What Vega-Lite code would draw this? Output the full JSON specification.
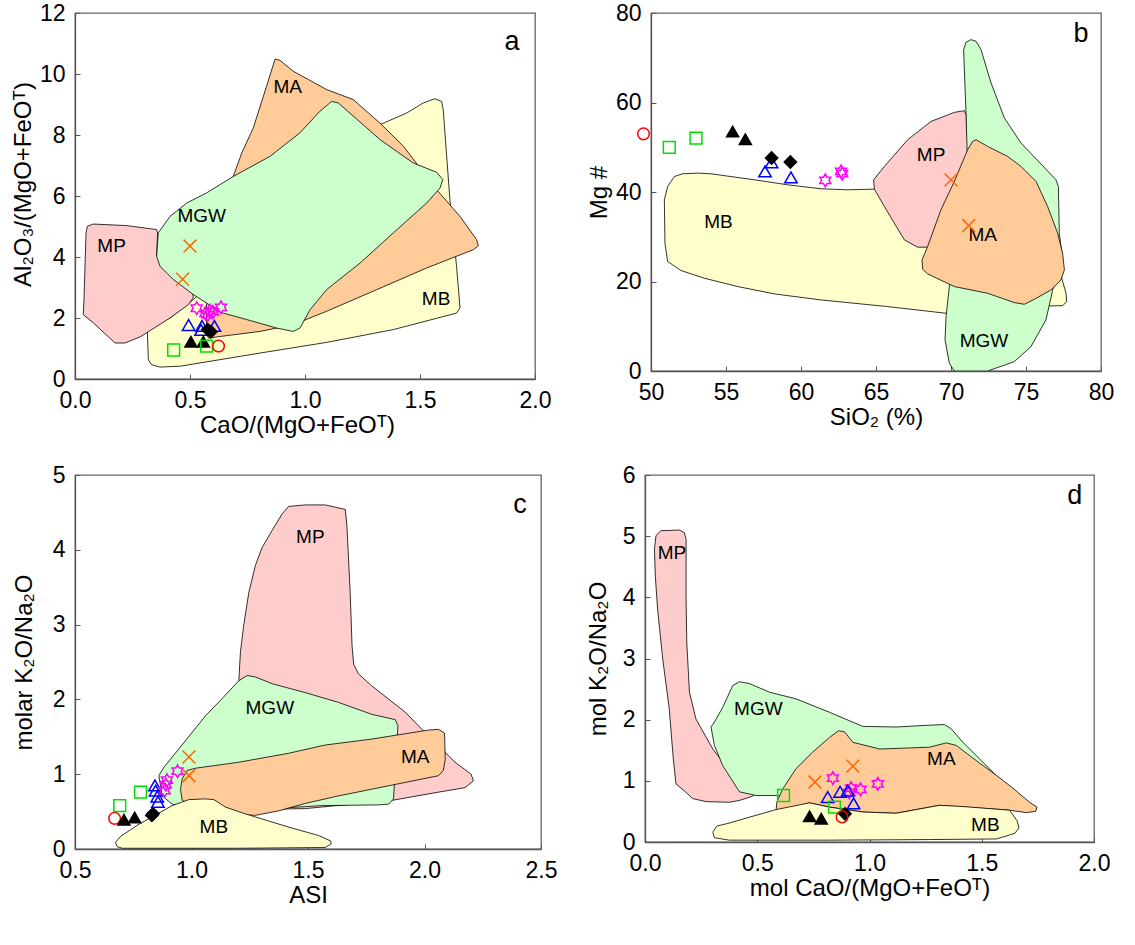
{
  "$schema": "https://vega.github.io/schema/vega-lite/v6.json",
  "background": "white",
  "padding": {"left": 10, "top": 1, "right": 5, "bottom": 5},
  "config": {
    "font": "Liberation Sans",
    "view": {"stroke": "#666", "strokeWidth": 1.3},
    "axis": {"grid": false, "labelFont": "Liberation Sans", "titleFont": "Liberation Sans", "labelFontSize": 23, "titleFontSize": 24, "titleFontWeight": "normal", "labelColor": "#000", "titleColor": "#000", "domainColor": "#555", "domainWidth": 1.3, "tickColor": "#555", "tickSize": -5, "labelPadding": 15, "labelFlush": false, "labelOverlap": false},
    "axisX": {"titlePadding": 1},
    "axisY": {"titlePadding": 4},
    "text": {"font": "Liberation Sans"}
  },
  "datasets": {
    "poly": [
      {"p":"a","r":"MB","o":1,"x":0.314,"y":1.67},{"p":"a","r":"MB","o":2,"x":0.319,"y":0.63},{"p":"a","r":"MB","o":3,"x":0.333,"y":0.47},{"p":"a","r":"MB","o":4,"x":0.370,"y":0.39},{"p":"a","r":"MB","o":5,"x":0.457,"y":0.42},{"p":"a","r":"MB","o":6,"x":0.587,"y":0.58},{"p":"a","r":"MB","o":7,"x":0.804,"y":0.85},{"p":"a","r":"MB","o":8,"x":1.094,"y":1.20},{"p":"a","r":"MB","o":9,"x":1.384,"y":1.62},{"p":"a","r":"MB","o":10,"x":1.659,"y":2.16},{"p":"a","r":"MB","o":11,"x":1.674,"y":2.33},{"p":"a","r":"MB","o":12,"x":1.659,"y":3.69},{"p":"a","r":"MB","o":13,"x":1.630,"y":5.88},{"p":"a","r":"MB","o":14,"x":1.601,"y":8.83},{"p":"a","r":"MB","o":15,"x":1.594,"y":9.10},{"p":"a","r":"MB","o":16,"x":1.565,"y":9.19},{"p":"a","r":"MB","o":17,"x":1.514,"y":9.05},{"p":"a","r":"MB","o":18,"x":1.442,"y":8.72},{"p":"a","r":"MB","o":19,"x":1.326,"y":8.34},{"p":"a","r":"MB","o":20,"x":0.949,"y":5.88},{"p":"a","r":"MB","o":21,"x":0.514,"y":2.60},{"p":"a","r":"MB","o":22,"x":0.413,"y":2.0},
      {"p":"a","r":"MA","o":1,"x":0.870,"y":10.49},{"p":"a","r":"MA","o":2,"x":0.891,"y":10.45},{"p":"a","r":"MA","o":3,"x":0.949,"y":10.09},{"p":"a","r":"MA","o":4,"x":1.094,"y":9.49},{"p":"a","r":"MA","o":5,"x":1.21,"y":9.16},{"p":"a","r":"MA","o":6,"x":1.326,"y":8.39},{"p":"a","r":"MA","o":7,"x":1.428,"y":7.63},{"p":"a","r":"MA","o":8,"x":1.572,"y":6.21},{"p":"a","r":"MA","o":9,"x":1.674,"y":5.33},{"p":"a","r":"MA","o":10,"x":1.746,"y":4.57},{"p":"a","r":"MA","o":11,"x":1.754,"y":4.37},{"p":"a","r":"MA","o":12,"x":1.732,"y":4.24},{"p":"a","r":"MA","o":13,"x":1.529,"y":3.64},{"p":"a","r":"MA","o":14,"x":1.312,"y":2.93},{"p":"a","r":"MA","o":15,"x":1.094,"y":2.22},{"p":"a","r":"MA","o":16,"x":0.949,"y":1.78},{"p":"a","r":"MA","o":17,"x":0.804,"y":1.56},{"p":"a","r":"MA","o":18,"x":0.616,"y":1.38},{"p":"a","r":"MA","o":19,"x":0.580,"y":1.34},{"p":"a","r":"MA","o":20,"x":0.572,"y":1.62},{"p":"a","r":"MA","o":21,"x":0.572,"y":2.49},{"p":"a","r":"MA","o":22,"x":0.630,"y":4.79},{"p":"a","r":"MA","o":23,"x":0.688,"y":6.64},{"p":"a","r":"MA","o":24,"x":0.725,"y":7.41},{"p":"a","r":"MA","o":25,"x":0.775,"y":8.23},{"p":"a","r":"MA","o":26,"x":0.833,"y":9.60},
      {"p":"a","r":"MP","o":1,"x":0.054,"y":5.01},{"p":"a","r":"MP","o":2,"x":0.08,"y":5.08},{"p":"a","r":"MP","o":3,"x":0.225,"y":5.03},{"p":"a","r":"MP","o":4,"x":0.355,"y":4.90},{"p":"a","r":"MP","o":5,"x":0.359,"y":4.79},{"p":"a","r":"MP","o":6,"x":0.355,"y":4.02},{"p":"a","r":"MP","o":7,"x":0.399,"y":3.64},{"p":"a","r":"MP","o":8,"x":0.471,"y":3.09},{"p":"a","r":"MP","o":9,"x":0.512,"y":2.82},{"p":"a","r":"MP","o":10,"x":0.514,"y":2.66},{"p":"a","r":"MP","o":11,"x":0.493,"y":2.44},{"p":"a","r":"MP","o":12,"x":0.413,"y":2.0},{"p":"a","r":"MP","o":13,"x":0.283,"y":1.38},{"p":"a","r":"MP","o":14,"x":0.217,"y":1.18},{"p":"a","r":"MP","o":15,"x":0.174,"y":1.18},{"p":"a","r":"MP","o":16,"x":0.08,"y":1.84},{"p":"a","r":"MP","o":17,"x":0.036,"y":2.11},{"p":"a","r":"MP","o":18,"x":0.039,"y":2.6},{"p":"a","r":"MP","o":19,"x":0.048,"y":4.79},
      {"p":"a","r":"MGW","o":1,"x":0.355,"y":4.02},{"p":"a","r":"MGW","o":2,"x":0.362,"y":4.79},{"p":"a","r":"MGW","o":3,"x":0.413,"y":5.33},{"p":"a","r":"MGW","o":4,"x":0.486,"y":5.77},{"p":"a","r":"MGW","o":5,"x":0.572,"y":6.10},{"p":"a","r":"MGW","o":6,"x":0.688,"y":6.64},{"p":"a","r":"MGW","o":7,"x":0.848,"y":7.30},{"p":"a","r":"MGW","o":8,"x":0.978,"y":8.07},{"p":"a","r":"MGW","o":9,"x":1.065,"y":8.78},{"p":"a","r":"MGW","o":10,"x":1.116,"y":9.10},{"p":"a","r":"MGW","o":11,"x":1.145,"y":9.05},{"p":"a","r":"MGW","o":12,"x":1.326,"y":7.85},{"p":"a","r":"MGW","o":13,"x":1.471,"y":7.08},{"p":"a","r":"MGW","o":14,"x":1.572,"y":6.78},{"p":"a","r":"MGW","o":15,"x":1.599,"y":6.54},{"p":"a","r":"MGW","o":16,"x":1.587,"y":6.26},{"p":"a","r":"MGW","o":17,"x":1.529,"y":5.77},{"p":"a","r":"MGW","o":18,"x":1.384,"y":4.79},{"p":"a","r":"MGW","o":19,"x":1.239,"y":3.80},{"p":"a","r":"MGW","o":20,"x":1.094,"y":2.93},{"p":"a","r":"MGW","o":21,"x":1.022,"y":2.27},{"p":"a","r":"MGW","o":22,"x":0.978,"y":1.67},{"p":"a","r":"MGW","o":23,"x":0.949,"y":1.56},{"p":"a","r":"MGW","o":24,"x":0.877,"y":1.67},{"p":"a","r":"MGW","o":25,"x":0.746,"y":1.95},{"p":"a","r":"MGW","o":26,"x":0.616,"y":2.22},{"p":"a","r":"MGW","o":27,"x":0.572,"y":2.49},{"p":"a","r":"MGW","o":28,"x":0.514,"y":2.77},{"p":"a","r":"MGW","o":29,"x":0.428,"y":3.26},{"p":"a","r":"MGW","o":30,"x":0.370,"y":3.69},

      {"p":"b","r":"MB","o":1,"x":51.11,"y":41.24},{"p":"b","r":"MB","o":2,"x":51.56,"y":43.47},{"p":"b","r":"MB","o":3,"x":52.11,"y":44.07},{"p":"b","r":"MB","o":4,"x":53.11,"y":44.22},{"p":"b","r":"MB","o":5,"x":54.0,"y":44.07},{"p":"b","r":"MB","o":6,"x":56.89,"y":42.73},{"p":"b","r":"MB","o":7,"x":59.11,"y":41.61},{"p":"b","r":"MB","o":8,"x":61.33,"y":40.72},{"p":"b","r":"MB","o":9,"x":63.11,"y":40.49},{"p":"b","r":"MB","o":10,"x":64.89,"y":40.64},{"p":"b","r":"MB","o":11,"x":70.0,"y":38.0},{"p":"b","r":"MB","o":12,"x":76.5,"y":31.0},{"p":"b","r":"MB","o":13,"x":77.4,"y":20.5},{"p":"b","r":"MB","o":14,"x":77.67,"y":17.37},{"p":"b","r":"MB","o":15,"x":77.71,"y":15.51},{"p":"b","r":"MB","o":16,"x":77.45,"y":14.6},{"p":"b","r":"MB","o":17,"x":76.56,"y":14.54},{"p":"b","r":"MB","o":18,"x":69.67,"y":12.90},{"p":"b","r":"MB","o":19,"x":65.78,"y":14.39},{"p":"b","r":"MB","o":20,"x":61.33,"y":15.88},{"p":"b","r":"MB","o":21,"x":58.22,"y":17.23},{"p":"b","r":"MB","o":22,"x":55.78,"y":18.87},{"p":"b","r":"MB","o":23,"x":53.56,"y":20.73},{"p":"b","r":"MB","o":24,"x":52.0,"y":22.45},{"p":"b","r":"MB","o":25,"x":51.11,"y":24.46},{"p":"b","r":"MB","o":26,"x":50.93,"y":28.56},{"p":"b","r":"MB","o":27,"x":50.89,"y":38.25},
      {"p":"b","r":"MGW","o":1,"x":70.84,"y":71.81},{"p":"b","r":"MGW","o":2,"x":71.0,"y":73.45},{"p":"b","r":"MGW","o":3,"x":71.33,"y":74.05},{"p":"b","r":"MGW","o":4,"x":71.67,"y":73.68},{"p":"b","r":"MGW","o":5,"x":72.0,"y":71.81},{"p":"b","r":"MGW","o":6,"x":72.67,"y":64.36},{"p":"b","r":"MGW","o":7,"x":73.56,"y":56.53},{"p":"b","r":"MGW","o":8,"x":74.67,"y":50.93},{"p":"b","r":"MGW","o":9,"x":77.0,"y":42.73},{"p":"b","r":"MGW","o":10,"x":77.16,"y":41.24},{"p":"b","r":"MGW","o":11,"x":77.22,"y":30.80},{"p":"b","r":"MGW","o":12,"x":77.44,"y":24.83},{"p":"b","r":"MGW","o":13,"x":76.78,"y":18.12},{"p":"b","r":"MGW","o":14,"x":76.33,"y":11.41},{"p":"b","r":"MGW","o":15,"x":75.33,"y":5.44},{"p":"b","r":"MGW","o":16,"x":74.22,"y":2.09},{"p":"b","r":"MGW","o":17,"x":72.44,"y":0.0},{"p":"b","r":"MGW","o":18,"x":70.22,"y":0.0},{"p":"b","r":"MGW","o":19,"x":69.89,"y":1.72},{"p":"b","r":"MGW","o":20,"x":69.6,"y":6.94},{"p":"b","r":"MGW","o":21,"x":69.67,"y":12.16},{"p":"b","r":"MGW","o":22,"x":69.89,"y":18.87},{"p":"b","r":"MGW","o":23,"x":71.0,"y":53.17},{"p":"b","r":"MGW","o":24,"x":71.0,"y":57.64},
      {"p":"b","r":"MP","o":1,"x":64.84,"y":42.73},{"p":"b","r":"MP","o":2,"x":65.56,"y":45.71},{"p":"b","r":"MP","o":3,"x":67.11,"y":51.68},{"p":"b","r":"MP","o":4,"x":68.67,"y":55.78},{"p":"b","r":"MP","o":5,"x":70.22,"y":57.79},{"p":"b","r":"MP","o":6,"x":70.89,"y":58.17},{"p":"b","r":"MP","o":7,"x":71.0,"y":57.27},{"p":"b","r":"MP","o":8,"x":71.11,"y":45.71},{"p":"b","r":"MP","o":9,"x":69.33,"y":27.67},{"p":"b","r":"MP","o":10,"x":67.78,"y":27.67},{"p":"b","r":"MP","o":11,"x":66.89,"y":29.31},{"p":"b","r":"MP","o":12,"x":66.22,"y":33.03},{"p":"b","r":"MP","o":13,"x":65.56,"y":36.76},{"p":"b","r":"MP","o":14,"x":64.89,"y":40.64},
      {"p":"b","r":"MA","o":1,"x":71.67,"y":51.68},{"p":"b","r":"MA","o":2,"x":72.44,"y":50.19},{"p":"b","r":"MA","o":3,"x":73.78,"y":47.95},{"p":"b","r":"MA","o":4,"x":74.67,"y":45.71},{"p":"b","r":"MA","o":5,"x":75.67,"y":42.36},{"p":"b","r":"MA","o":6,"x":76.44,"y":36.76},{"p":"b","r":"MA","o":7,"x":77.11,"y":30.80},{"p":"b","r":"MA","o":8,"x":77.44,"y":26.32},{"p":"b","r":"MA","o":9,"x":77.56,"y":22.59},{"p":"b","r":"MA","o":10,"x":77.33,"y":20.36},{"p":"b","r":"MA","o":11,"x":76.67,"y":18.12},{"p":"b","r":"MA","o":12,"x":75.56,"y":16.03},{"p":"b","r":"MA","o":13,"x":74.89,"y":14.91},{"p":"b","r":"MA","o":14,"x":74.22,"y":15.29},{"p":"b","r":"MA","o":15,"x":72.44,"y":17.37},{"p":"b","r":"MA","o":16,"x":70.22,"y":18.87},{"p":"b","r":"MA","o":17,"x":68.44,"y":21.70},{"p":"b","r":"MA","o":18,"x":68.11,"y":22.74},{"p":"b","r":"MA","o":19,"x":68.07,"y":24.83},{"p":"b","r":"MA","o":20,"x":68.44,"y":27.81},{"p":"b","r":"MA","o":21,"x":69.33,"y":36.02},{"p":"b","r":"MA","o":22,"x":70.22,"y":42.36},{"p":"b","r":"MA","o":23,"x":71.11,"y":49.44},{"p":"b","r":"MA","o":24,"x":71.44,"y":51.30},

      {"p":"c","r":"MP","o":1,"x":1.203,"y":2.25},{"p":"c","r":"MP","o":2,"x":1.210,"y":2.63},{"p":"c","r":"MP","o":3,"x":1.224,"y":2.99},{"p":"c","r":"MP","o":4,"x":1.246,"y":3.43},{"p":"c","r":"MP","o":5,"x":1.274,"y":3.79},{"p":"c","r":"MP","o":6,"x":1.303,"y":4.03},{"p":"c","r":"MP","o":7,"x":1.346,"y":4.26},{"p":"c","r":"MP","o":8,"x":1.389,"y":4.48},{"p":"c","r":"MP","o":9,"x":1.417,"y":4.58},{"p":"c","r":"MP","o":10,"x":1.489,"y":4.60},{"p":"c","r":"MP","o":11,"x":1.574,"y":4.60},{"p":"c","r":"MP","o":12,"x":1.660,"y":4.54},{"p":"c","r":"MP","o":13,"x":1.667,"y":4.32},{"p":"c","r":"MP","o":14,"x":1.681,"y":3.43},{"p":"c","r":"MP","o":15,"x":1.689,"y":2.72},{"p":"c","r":"MP","o":16,"x":1.696,"y":2.47},{"p":"c","r":"MP","o":17,"x":1.717,"y":2.34},{"p":"c","r":"MP","o":18,"x":1.774,"y":2.18},{"p":"c","r":"MP","o":19,"x":1.917,"y":1.83},{"p":"c","r":"MP","o":20,"x":1.989,"y":1.60},{"p":"c","r":"MP","o":21,"x":2.060,"y":1.38},{"p":"c","r":"MP","o":22,"x":2.131,"y":1.16},{"p":"c","r":"MP","o":23,"x":2.200,"y":1.00},{"p":"c","r":"MP","o":24,"x":2.210,"y":0.91},{"p":"c","r":"MP","o":25,"x":2.174,"y":0.82},{"p":"c","r":"MP","o":26,"x":2.060,"y":0.76},{"p":"c","r":"MP","o":27,"x":1.860,"y":0.65},{"p":"c","r":"MP","o":28,"x":1.489,"y":0.54},{"p":"c","r":"MP","o":29,"x":1.289,"y":0.53},
      {"p":"c","r":"MGW","o":1,"x":0.860,"y":0.98},{"p":"c","r":"MGW","o":2,"x":0.881,"y":1.09},{"p":"c","r":"MGW","o":3,"x":0.946,"y":1.34},{"p":"c","r":"MGW","o":4,"x":1.060,"y":1.78},{"p":"c","r":"MGW","o":5,"x":1.131,"y":2.01},{"p":"c","r":"MGW","o":6,"x":1.203,"y":2.25},{"p":"c","r":"MGW","o":7,"x":1.239,"y":2.32},{"p":"c","r":"MGW","o":8,"x":1.274,"y":2.30},{"p":"c","r":"MGW","o":9,"x":1.346,"y":2.21},{"p":"c","r":"MGW","o":10,"x":1.489,"y":2.09},{"p":"c","r":"MGW","o":11,"x":1.631,"y":1.96},{"p":"c","r":"MGW","o":12,"x":1.774,"y":1.80},{"p":"c","r":"MGW","o":13,"x":1.874,"y":1.73},{"p":"c","r":"MGW","o":14,"x":1.886,"y":1.65},{"p":"c","r":"MGW","o":15,"x":1.877,"y":1.20},{"p":"c","r":"MGW","o":16,"x":1.867,"y":0.67},{"p":"c","r":"MGW","o":17,"x":1.846,"y":0.60},{"p":"c","r":"MGW","o":18,"x":1.803,"y":0.59},{"p":"c","r":"MGW","o":19,"x":1.560,"y":0.58},{"p":"c","r":"MGW","o":20,"x":1.346,"y":0.54},{"p":"c","r":"MGW","o":21,"x":1.060,"y":0.53},{"p":"c","r":"MGW","o":22,"x":0.917,"y":0.60},{"p":"c","r":"MGW","o":23,"x":0.874,"y":0.71},
      {"p":"c","r":"MA","o":1,"x":0.953,"y":0.80},{"p":"c","r":"MA","o":2,"x":0.960,"y":0.94},{"p":"c","r":"MA","o":3,"x":0.981,"y":1.05},{"p":"c","r":"MA","o":4,"x":1.017,"y":1.08},{"p":"c","r":"MA","o":5,"x":1.203,"y":1.16},{"p":"c","r":"MA","o":6,"x":1.417,"y":1.28},{"p":"c","r":"MA","o":7,"x":1.574,"y":1.39},{"p":"c","r":"MA","o":8,"x":1.774,"y":1.47},{"p":"c","r":"MA","o":9,"x":2.017,"y":1.59},{"p":"c","r":"MA","o":10,"x":2.060,"y":1.60},{"p":"c","r":"MA","o":11,"x":2.086,"y":1.55},{"p":"c","r":"MA","o":12,"x":2.089,"y":1.20},{"p":"c","r":"MA","o":13,"x":2.081,"y":1.05},{"p":"c","r":"MA","o":14,"x":2.060,"y":0.98},{"p":"c","r":"MA","o":15,"x":1.917,"y":0.89},{"p":"c","r":"MA","o":16,"x":1.774,"y":0.80},{"p":"c","r":"MA","o":17,"x":1.631,"y":0.71},{"p":"c","r":"MA","o":18,"x":1.489,"y":0.61},{"p":"c","r":"MA","o":19,"x":1.374,"y":0.51},{"p":"c","r":"MA","o":20,"x":1.274,"y":0.45},{"p":"c","r":"MA","o":21,"x":1.060,"y":0.49},{"p":"c","r":"MA","o":22,"x":0.960,"y":0.65},
      {"p":"c","r":"MB","o":1,"x":0.681,"y":0.03},{"p":"c","r":"MB","o":2,"x":0.674,"y":0.09},{"p":"c","r":"MB","o":3,"x":0.696,"y":0.17},{"p":"c","r":"MB","o":4,"x":0.774,"y":0.33},{"p":"c","r":"MB","o":5,"x":0.860,"y":0.48},{"p":"c","r":"MB","o":6,"x":0.917,"y":0.58},{"p":"c","r":"MB","o":7,"x":0.989,"y":0.66},{"p":"c","r":"MB","o":8,"x":1.060,"y":0.67},{"p":"c","r":"MB","o":9,"x":1.096,"y":0.66},{"p":"c","r":"MB","o":10,"x":1.146,"y":0.56},{"p":"c","r":"MB","o":11,"x":1.231,"y":0.47},{"p":"c","r":"MB","o":12,"x":1.346,"y":0.36},{"p":"c","r":"MB","o":13,"x":1.431,"y":0.28},{"p":"c","r":"MB","o":14,"x":1.546,"y":0.18},{"p":"c","r":"MB","o":15,"x":1.596,"y":0.11},{"p":"c","r":"MB","o":16,"x":1.600,"y":0.07},{"p":"c","r":"MB","o":17,"x":1.574,"y":0.02},{"p":"c","r":"MB","o":18,"x":1.203,"y":0.01},{"p":"c","r":"MB","o":19,"x":0.703,"y":0.01},

      {"p":"d","r":"MP","o":1,"x":0.042,"y":4.79},{"p":"d","r":"MP","o":2,"x":0.049,"y":5.01},{"p":"d","r":"MP","o":3,"x":0.071,"y":5.09},{"p":"d","r":"MP","o":4,"x":0.153,"y":5.10},{"p":"d","r":"MP","o":5,"x":0.175,"y":5.06},{"p":"d","r":"MP","o":6,"x":0.183,"y":4.95},{"p":"d","r":"MP","o":7,"x":0.183,"y":3.97},{"p":"d","r":"MP","o":8,"x":0.186,"y":3.27},{"p":"d","r":"MP","o":9,"x":0.198,"y":2.45},{"p":"d","r":"MP","o":10,"x":0.227,"y":2.01},{"p":"d","r":"MP","o":11,"x":0.302,"y":1.52},{"p":"d","r":"MP","o":12,"x":0.346,"y":1.31},{"p":"d","r":"MP","o":13,"x":0.421,"y":1.12},{"p":"d","r":"MP","o":14,"x":0.495,"y":1.01},{"p":"d","r":"MP","o":15,"x":0.510,"y":0.93},{"p":"d","r":"MP","o":16,"x":0.502,"y":0.82},{"p":"d","r":"MP","o":17,"x":0.480,"y":0.75},{"p":"d","r":"MP","o":18,"x":0.421,"y":0.68},{"p":"d","r":"MP","o":19,"x":0.376,"y":0.65},{"p":"d","r":"MP","o":20,"x":0.272,"y":0.66},{"p":"d","r":"MP","o":21,"x":0.212,"y":0.71},{"p":"d","r":"MP","o":22,"x":0.180,"y":0.82},{"p":"d","r":"MP","o":23,"x":0.138,"y":0.95},{"p":"d","r":"MP","o":24,"x":0.126,"y":1.36},{"p":"d","r":"MP","o":25,"x":0.108,"y":2.18},{"p":"d","r":"MP","o":26,"x":0.079,"y":2.99},{"p":"d","r":"MP","o":27,"x":0.056,"y":3.81},{"p":"d","r":"MP","o":28,"x":0.046,"y":4.35},
      {"p":"d","r":"MGW","o":1,"x":0.294,"y":1.88},{"p":"d","r":"MGW","o":2,"x":0.309,"y":1.96},{"p":"d","r":"MGW","o":3,"x":0.346,"y":2.20},{"p":"d","r":"MGW","o":4,"x":0.391,"y":2.56},{"p":"d","r":"MGW","o":5,"x":0.421,"y":2.62},{"p":"d","r":"MGW","o":6,"x":0.465,"y":2.59},{"p":"d","r":"MGW","o":7,"x":0.554,"y":2.45},{"p":"d","r":"MGW","o":8,"x":0.673,"y":2.34},{"p":"d","r":"MGW","o":9,"x":0.822,"y":2.12},{"p":"d","r":"MGW","o":10,"x":0.970,"y":1.89},{"p":"d","r":"MGW","o":11,"x":1.119,"y":1.88},{"p":"d","r":"MGW","o":12,"x":1.267,"y":1.91},{"p":"d","r":"MGW","o":13,"x":1.334,"y":1.92},{"p":"d","r":"MGW","o":14,"x":1.364,"y":1.85},{"p":"d","r":"MGW","o":15,"x":1.416,"y":1.63},{"p":"d","r":"MGW","o":16,"x":1.490,"y":1.36},{"p":"d","r":"MGW","o":17,"x":1.594,"y":0.98},{"p":"d","r":"MGW","o":18,"x":1.416,"y":0.82},{"p":"d","r":"MGW","o":19,"x":0.822,"y":0.65},{"p":"d","r":"MGW","o":20,"x":0.584,"y":0.76},{"p":"d","r":"MGW","o":21,"x":0.495,"y":0.76},{"p":"d","r":"MGW","o":22,"x":0.421,"y":0.82},{"p":"d","r":"MGW","o":23,"x":0.346,"y":1.25},{"p":"d","r":"MGW","o":24,"x":0.309,"y":1.58},
      {"p":"d","r":"MA","o":1,"x":0.584,"y":0.52},{"p":"d","r":"MA","o":2,"x":0.587,"y":0.65},{"p":"d","r":"MA","o":3,"x":0.614,"y":0.87},{"p":"d","r":"MA","o":4,"x":0.673,"y":1.20},{"p":"d","r":"MA","o":5,"x":0.747,"y":1.47},{"p":"d","r":"MA","o":6,"x":0.822,"y":1.71},{"p":"d","r":"MA","o":7,"x":0.863,"y":1.82},{"p":"d","r":"MA","o":8,"x":0.889,"y":1.80},{"p":"d","r":"MA","o":9,"x":0.926,"y":1.63},{"p":"d","r":"MA","o":10,"x":1.045,"y":1.52},{"p":"d","r":"MA","o":11,"x":1.267,"y":1.55},{"p":"d","r":"MA","o":12,"x":1.342,"y":1.62},{"p":"d","r":"MA","o":13,"x":1.386,"y":1.58},{"p":"d","r":"MA","o":14,"x":1.461,"y":1.37},{"p":"d","r":"MA","o":15,"x":1.565,"y":1.09},{"p":"d","r":"MA","o":16,"x":1.639,"y":0.88},{"p":"d","r":"MA","o":17,"x":1.713,"y":0.65},{"p":"d","r":"MA","o":18,"x":1.746,"y":0.57},{"p":"d","r":"MA","o":19,"x":1.740,"y":0.50},{"p":"d","r":"MA","o":20,"x":1.698,"y":0.48},{"p":"d","r":"MA","o":21,"x":1.624,"y":0.52},{"p":"d","r":"MA","o":22,"x":1.312,"y":0.60},{"p":"d","r":"MA","o":23,"x":1.119,"y":0.47},{"p":"d","r":"MA","o":24,"x":0.970,"y":0.49},{"p":"d","r":"MA","o":25,"x":0.822,"y":0.57},{"p":"d","r":"MA","o":26,"x":0.733,"y":0.64},{"p":"d","r":"MA","o":27,"x":0.629,"y":0.54},
      {"p":"d","r":"MB","o":1,"x":0.302,"y":0.16},{"p":"d","r":"MB","o":2,"x":0.319,"y":0.26},{"p":"d","r":"MB","o":3,"x":0.376,"y":0.31},{"p":"d","r":"MB","o":4,"x":0.450,"y":0.39},{"p":"d","r":"MB","o":5,"x":0.584,"y":0.53},{"p":"d","r":"MB","o":6,"x":0.733,"y":0.64},{"p":"d","r":"MB","o":7,"x":0.822,"y":0.57},{"p":"d","r":"MB","o":8,"x":0.970,"y":0.49},{"p":"d","r":"MB","o":9,"x":1.119,"y":0.47},{"p":"d","r":"MB","o":10,"x":1.312,"y":0.60},{"p":"d","r":"MB","o":11,"x":1.416,"y":0.58},{"p":"d","r":"MB","o":12,"x":1.624,"y":0.52},{"p":"d","r":"MB","o":13,"x":1.657,"y":0.35},{"p":"d","r":"MB","o":14,"x":1.666,"y":0.23},{"p":"d","r":"MB","o":15,"x":1.647,"y":0.14},{"p":"d","r":"MB","o":16,"x":1.565,"y":0.05},{"p":"d","r":"MB","o":17,"x":1.267,"y":0.04},{"p":"d","r":"MB","o":18,"x":0.822,"y":0.03},{"p":"d","r":"MB","o":19,"x":0.376,"y":0.03},{"p":"d","r":"MB","o":20,"x":0.309,"y":0.07}
    ],
    "pts": [
      {"p":"a","g":"x","x":0.500,"y":4.36},{"p":"a","g":"x","x":0.468,"y":3.27},
      {"p":"a","g":"star","x":0.529,"y":2.32},{"p":"a","g":"star","x":0.567,"y":2.15},{"p":"a","g":"star","x":0.587,"y":2.24},{"p":"a","g":"star","x":0.577,"y":2.10},{"p":"a","g":"star","x":0.635,"y":2.35},{"p":"a","g":"star","x":0.600,"y":2.20},
      {"p":"a","g":"otri","x":0.494,"y":1.77},{"p":"a","g":"otri","x":0.552,"y":1.74},{"p":"a","g":"otri","x":0.548,"y":1.61},{"p":"a","g":"otri","x":0.606,"y":1.74},
      {"p":"a","g":"diamond","x":0.591,"y":1.55},{"p":"a","g":"diamond","x":0.577,"y":1.62},
      {"p":"a","g":"tri","x":0.504,"y":1.22},{"p":"a","g":"tri","x":0.558,"y":1.22},
      {"p":"a","g":"square","x":0.429,"y":0.95},{"p":"a","g":"square","x":0.572,"y":1.08},
      {"p":"a","g":"circle","x":0.624,"y":1.08},

      {"p":"b","g":"circle","x":49.5,"y":53.0},
      {"p":"b","g":"square","x":51.22,"y":49.96},{"p":"b","g":"square","x":53.0,"y":52.05},
      {"p":"b","g":"tri","x":55.44,"y":53.5},{"p":"b","g":"tri","x":56.29,"y":51.8},
      {"p":"b","g":"otri","x":57.6,"y":44.6},{"p":"b","g":"otri","x":58.04,"y":46.6},{"p":"b","g":"otri","x":59.33,"y":43.25},
      {"p":"b","g":"diamond","x":58.04,"y":47.6},{"p":"b","g":"diamond","x":59.29,"y":46.7},
      {"p":"b","g":"star","x":61.62,"y":42.6},{"p":"b","g":"star","x":62.67,"y":44.6},{"p":"b","g":"star","x":62.75,"y":44.1},
      {"p":"b","g":"x","x":70.0,"y":42.7},{"p":"b","g":"x","x":71.18,"y":32.5},

      {"p":"c","g":"circle","x":0.670,"y":0.41},
      {"p":"c","g":"tri","x":0.710,"y":0.39},{"p":"c","g":"tri","x":0.756,"y":0.42},
      {"p":"c","g":"diamond","x":0.830,"y":0.45},{"p":"c","g":"diamond","x":0.835,"y":0.47},
      {"p":"c","g":"square","x":0.692,"y":0.58},{"p":"c","g":"square","x":0.781,"y":0.76},
      {"p":"c","g":"otri","x":0.843,"y":0.85},{"p":"c","g":"otri","x":0.846,"y":0.78},{"p":"c","g":"otri","x":0.853,"y":0.70},{"p":"c","g":"otri","x":0.856,"y":0.63},
      {"p":"c","g":"star","x":0.885,"y":0.78},{"p":"c","g":"star","x":0.890,"y":0.86},{"p":"c","g":"star","x":0.895,"y":0.92},{"p":"c","g":"star","x":0.940,"y":1.04},
      {"p":"c","g":"x","x":0.989,"y":1.23},{"p":"c","g":"x","x":0.989,"y":0.98},

      {"p":"d","g":"x","x":0.757,"y":0.98},{"p":"d","g":"x","x":0.926,"y":1.24},
      {"p":"d","g":"star","x":0.837,"y":1.045},{"p":"d","g":"star","x":0.918,"y":0.88},{"p":"d","g":"star","x":0.960,"y":0.86},{"p":"d","g":"star","x":1.037,"y":0.95},{"p":"d","g":"star","x":0.910,"y":0.81},
      {"p":"d","g":"otri","x":0.814,"y":0.735},{"p":"d","g":"otri","x":0.869,"y":0.82},{"p":"d","g":"otri","x":0.903,"y":0.84},{"p":"d","g":"otri","x":0.929,"y":0.63},
      {"p":"d","g":"square","x":0.617,"y":0.76},{"p":"d","g":"square","x":0.844,"y":0.57},
      {"p":"d","g":"tri","x":0.733,"y":0.42},{"p":"d","g":"tri","x":0.785,"y":0.38},
      {"p":"d","g":"diamond","x":0.891,"y":0.46},
      {"p":"d","g":"circle","x":0.878,"y":0.41}
    ],
    "labels": [
      {"p":"a","t":"MA","x":0.925,"y":9.57},{"p":"a","t":"MGW","x":0.551,"y":5.33},{"p":"a","t":"MP","x":0.159,"y":4.35},{"p":"a","t":"MB","x":1.57,"y":2.62},
      {"p":"b","t":"MP","x":68.67,"y":48.3},{"p":"b","t":"MA","x":72.11,"y":30.4},{"p":"b","t":"MB","x":54.5,"y":33.4},{"p":"b","t":"MGW","x":72.2,"y":6.6},
      {"p":"c","t":"MP","x":1.51,"y":4.17},{"p":"c","t":"MGW","x":1.336,"y":1.89},{"p":"c","t":"MA","x":1.96,"y":1.23},{"p":"c","t":"MB","x":1.096,"y":0.29},
      {"p":"d","t":"MP","x":0.12,"y":4.73},{"p":"d","t":"MGW","x":0.505,"y":2.17},{"p":"d","t":"MA","x":1.32,"y":1.36},{"p":"d","t":"MB","x":1.516,"y":0.28}
    ],
    "letters": [
      {"p":"a","t":"a","x":1.90,"y":11.05},{"p":"b","t":"b","x":78.67,"y":75.2},{"p":"c","t":"c","x":2.41,"y":4.6},{"p":"d","t":"d","x":1.914,"y":5.66}
    ]
  },
  "align": "none",
  "spacing": 25,
  "vconcat": [
    {
      "spacing": 34,
      "hconcat": [
        {
          "width": 460, "height": 366,
          "encoding": {
            "x": {"field": "x", "type": "quantitative", "scale": {"domain": [0, 2], "nice": false, "zero": false}, "axis": {"values": [0, 0.5, 1, 1.5, 2], "format": ".1f", "title": "CaO/(MgO+FeOᵀ)", "titleX": 222}},
            "y": {"field": "y", "type": "quantitative", "scale": {"domain": [0, 12], "nice": false, "zero": false}, "axis": {"values": [0, 2, 4, 6, 8, 10, 12], "title": "Al₂O₃/(MgO+FeOᵀ)", "titleY": 171}}
          },
          "layer": [
            {"data": {"name": "poly"}, "transform": [{"filter": "datum.p == 'a'"}], "mark": {"type": "line", "interpolate": "linear-closed", "stroke": "#000", "strokeWidth": 0.8, "clip": true}, "encoding": {"order": {"field": "o", "type": "quantitative"}, "detail": {"field": "r"}, "fill": {"field": "r", "type": "nominal", "scale": {"domain": ["MP", "MA", "MGW", "MB"], "range": ["#FFCCCC", "#FFCC99", "#CCFFCC", "#FFFFCC"]}, "legend": null}}},
            {"data": {"name": "labels"}, "transform": [{"filter": "datum.p == 'a'"}], "mark": {"type": "text", "fontSize": 19, "color": "#000"}, "encoding": {"text": {"field": "t"}}},
            {"data": {"name": "pts"}, "transform": [{"filter": "datum.p == 'a'"}], "mark": {"type": "point", "strokeWidth": 1.5, "opacity": 1}, "encoding": {
              "shape": {"field": "g", "type": "nominal", "scale": {"domain": ["circle", "square", "tri", "diamond", "otri", "star", "x"], "range": ["circle", "square", "triangle-up", "diamond", "triangle-up", "M0,-1L0.289,-0.5L0.866,-0.5L0.577,0L0.866,0.5L0.289,0.5L0,1L-0.289,0.5L-0.866,0.5L-0.577,0L-0.866,-0.5L-0.289,-0.5Z", "M-1,-1L1,1M-1,1L1,-1"]}, "legend": null},
              "stroke": {"field": "g", "type": "nominal", "scale": {"domain": ["circle", "square", "tri", "diamond", "otri", "star", "x"], "range": ["#ff0000", "#00dd00", "#000000", "#000000", "#0000ff", "#ff00ff", "#ff6600"]}, "legend": null},
              "fill": {"field": "g", "type": "nominal", "scale": {"domain": ["circle", "square", "tri", "diamond", "otri", "star", "x"], "range": ["transparent", "transparent", "#000000", "#000000", "transparent", "transparent", "transparent"]}, "legend": null},
              "size": {"field": "g", "type": "nominal", "scale": {"domain": ["circle", "square", "tri", "diamond", "otri", "star", "x"], "range": [135, 165, 130, 125, 145, 170, 170]}, "legend": null}}},
            {"data": {"name": "letters"}, "transform": [{"filter": "datum.p == 'a'"}], "mark": {"type": "text", "fontSize": 27, "color": "#000"}, "encoding": {"text": {"field": "t"}}}
          ],
          "resolve": {"scale": {"fill": "independent"}}
        },
        {
          "width": 450, "height": 358,
          "encoding": {
            "x": {"field": "x", "type": "quantitative", "scale": {"domain": [50, 80], "nice": false, "zero": false}, "axis": {"values": [50, 55, 60, 65, 70, 75, 80], "title": "SiO₂ (%)"}},
            "y": {"field": "y", "type": "quantitative", "scale": {"domain": [0, 80], "nice": false, "zero": false}, "axis": {"values": [0, 20, 40, 60, 80], "title": "Mg #"}}
          },
          "layer": [
            {"data": {"name": "poly"}, "transform": [{"filter": "datum.p == 'b'"}], "mark": {"type": "line", "interpolate": "linear-closed", "stroke": "#000", "strokeWidth": 0.8, "clip": true}, "encoding": {"order": {"field": "o", "type": "quantitative"}, "detail": {"field": "r"}, "fill": {"field": "r", "type": "nominal", "scale": {"domain": ["MP", "MA", "MGW", "MB"], "range": ["#FFCCCC", "#FFCC99", "#CCFFCC", "#FFFFCC"]}, "legend": null}}},
            {"data": {"name": "labels"}, "transform": [{"filter": "datum.p == 'b'"}], "mark": {"type": "text", "fontSize": 19, "color": "#000"}, "encoding": {"text": {"field": "t"}}},
            {"data": {"name": "pts"}, "transform": [{"filter": "datum.p == 'b'"}], "mark": {"type": "point", "strokeWidth": 1.5, "opacity": 1}, "encoding": {
              "shape": {"field": "g", "type": "nominal", "scale": {"domain": ["circle", "square", "tri", "diamond", "otri", "star", "x"], "range": ["circle", "square", "triangle-up", "diamond", "triangle-up", "M0,-1L0.289,-0.5L0.866,-0.5L0.577,0L0.866,0.5L0.289,0.5L0,1L-0.289,0.5L-0.866,0.5L-0.577,0L-0.866,-0.5L-0.289,-0.5Z", "M-1,-1L1,1M-1,1L1,-1"]}, "legend": null},
              "stroke": {"field": "g", "type": "nominal", "scale": {"domain": ["circle", "square", "tri", "diamond", "otri", "star", "x"], "range": ["#ff0000", "#33cc66", "#000000", "#000000", "#0000ff", "#ff00ff", "#ff6600"]}, "legend": null},
              "fill": {"field": "g", "type": "nominal", "scale": {"domain": ["circle", "square", "tri", "diamond", "otri", "star", "x"], "range": ["transparent", "transparent", "#000000", "#000000", "transparent", "transparent", "transparent"]}, "legend": null},
              "size": {"field": "g", "type": "nominal", "scale": {"domain": ["circle", "square", "tri", "diamond", "otri", "star", "x"], "range": [135, 165, 130, 125, 145, 170, 170]}, "legend": null}}},
            {"data": {"name": "letters"}, "transform": [{"filter": "datum.p == 'b'"}], "mark": {"type": "text", "fontSize": 27, "color": "#000"}, "encoding": {"text": {"field": "t"}}}
          ],
          "resolve": {"scale": {"fill": "independent"}}
        }
      ]
    },
    {
      "spacing": 27,
      "hconcat": [
        {
          "width": 466, "height": 374,
          "encoding": {
            "x": {"field": "x", "type": "quantitative", "scale": {"domain": [0.5, 2.5], "nice": false, "zero": false}, "axis": {"values": [0.5, 1, 1.5, 2, 2.5], "format": ".1f", "title": "ASI"}},
            "y": {"field": "y", "type": "quantitative", "scale": {"domain": [0, 5], "nice": false, "zero": false}, "axis": {"values": [0, 1, 2, 3, 4, 5], "title": "molar K₂O/Na₂O", "titlePadding": 16}}
          },
          "layer": [
            {"data": {"name": "poly"}, "transform": [{"filter": "datum.p == 'c'"}], "mark": {"type": "line", "interpolate": "linear-closed", "stroke": "#000", "strokeWidth": 0.8, "clip": true}, "encoding": {"order": {"field": "o", "type": "quantitative"}, "detail": {"field": "r"}, "fill": {"field": "r", "type": "nominal", "scale": {"domain": ["MP", "MA", "MGW", "MB"], "range": ["#FFCCCC", "#FFCC99", "#CCFFCC", "#FFFFCC"]}, "legend": null}}},
            {"data": {"name": "labels"}, "transform": [{"filter": "datum.p == 'c'"}], "mark": {"type": "text", "fontSize": 19, "color": "#000"}, "encoding": {"text": {"field": "t"}}},
            {"data": {"name": "pts"}, "transform": [{"filter": "datum.p == 'c'"}], "mark": {"type": "point", "strokeWidth": 1.5, "opacity": 1}, "encoding": {
              "shape": {"field": "g", "type": "nominal", "scale": {"domain": ["circle", "square", "tri", "diamond", "otri", "star", "x"], "range": ["circle", "square", "triangle-up", "diamond", "triangle-up", "M0,-1L0.289,-0.5L0.866,-0.5L0.577,0L0.866,0.5L0.289,0.5L0,1L-0.289,0.5L-0.866,0.5L-0.577,0L-0.866,-0.5L-0.289,-0.5Z", "M-1,-1L1,1M-1,1L1,-1"]}, "legend": null},
              "stroke": {"field": "g", "type": "nominal", "scale": {"domain": ["circle", "square", "tri", "diamond", "otri", "star", "x"], "range": ["#ff0000", "#00dd00", "#000000", "#000000", "#0000ff", "#ff00ff", "#ff6600"]}, "legend": null},
              "fill": {"field": "g", "type": "nominal", "scale": {"domain": ["circle", "square", "tri", "diamond", "otri", "star", "x"], "range": ["transparent", "transparent", "#000000", "#000000", "transparent", "transparent", "transparent"]}, "legend": null},
              "size": {"field": "g", "type": "nominal", "scale": {"domain": ["circle", "square", "tri", "diamond", "otri", "star", "x"], "range": [135, 165, 130, 125, 145, 170, 170]}, "legend": null}}},
            {"data": {"name": "letters"}, "transform": [{"filter": "datum.p == 'c'"}], "mark": {"type": "text", "fontSize": 27, "color": "#000"}, "encoding": {"text": {"field": "t"}}}
          ],
          "resolve": {"scale": {"fill": "independent"}}
        },
        {
          "width": 449, "height": 367,
          "encoding": {
            "x": {"field": "x", "type": "quantitative", "scale": {"domain": [0, 2], "nice": false, "zero": false}, "axis": {"values": [0, 0.5, 1, 1.5, 2], "format": ".1f", "title": "mol CaO/(MgO+FeOᵀ)"}},
            "y": {"field": "y", "type": "quantitative", "scale": {"domain": [0, 6], "nice": false, "zero": false}, "axis": {"values": [0, 1, 2, 3, 4, 5, 6], "title": "mol K₂O/Na₂O", "titlePadding": 12}}
          },
          "layer": [
            {"data": {"name": "poly"}, "transform": [{"filter": "datum.p == 'd'"}], "mark": {"type": "line", "interpolate": "linear-closed", "stroke": "#000", "strokeWidth": 0.8, "clip": true}, "encoding": {"order": {"field": "o", "type": "quantitative"}, "detail": {"field": "r"}, "fill": {"field": "r", "type": "nominal", "scale": {"domain": ["MP", "MA", "MGW", "MB"], "range": ["#FFCCCC", "#FFCC99", "#CCFFCC", "#FFFFCC"]}, "legend": null}}},
            {"data": {"name": "labels"}, "transform": [{"filter": "datum.p == 'd'"}], "mark": {"type": "text", "fontSize": 19, "color": "#000"}, "encoding": {"text": {"field": "t"}}},
            {"data": {"name": "pts"}, "transform": [{"filter": "datum.p == 'd'"}], "mark": {"type": "point", "strokeWidth": 1.5, "opacity": 1}, "encoding": {
              "shape": {"field": "g", "type": "nominal", "scale": {"domain": ["circle", "square", "tri", "diamond", "otri", "star", "x"], "range": ["circle", "square", "triangle-up", "diamond", "triangle-up", "M0,-1L0.289,-0.5L0.866,-0.5L0.577,0L0.866,0.5L0.289,0.5L0,1L-0.289,0.5L-0.866,0.5L-0.577,0L-0.866,-0.5L-0.289,-0.5Z", "M-1,-1L1,1M-1,1L1,-1"]}, "legend": null},
              "stroke": {"field": "g", "type": "nominal", "scale": {"domain": ["circle", "square", "tri", "diamond", "otri", "star", "x"], "range": ["#ff0000", "#00dd00", "#000000", "#000000", "#0000ff", "#ff00ff", "#ff6600"]}, "legend": null},
              "fill": {"field": "g", "type": "nominal", "scale": {"domain": ["circle", "square", "tri", "diamond", "otri", "star", "x"], "range": ["transparent", "transparent", "#000000", "#000000", "transparent", "transparent", "transparent"]}, "legend": null},
              "size": {"field": "g", "type": "nominal", "scale": {"domain": ["circle", "square", "tri", "diamond", "otri", "star", "x"], "range": [135, 165, 130, 125, 145, 170, 170]}, "legend": null}}},
            {"data": {"name": "letters"}, "transform": [{"filter": "datum.p == 'd'"}], "mark": {"type": "text", "fontSize": 27, "color": "#000"}, "encoding": {"text": {"field": "t"}}}
          ],
          "resolve": {"scale": {"fill": "independent"}}
        }
      ]
    }
  ]
}
